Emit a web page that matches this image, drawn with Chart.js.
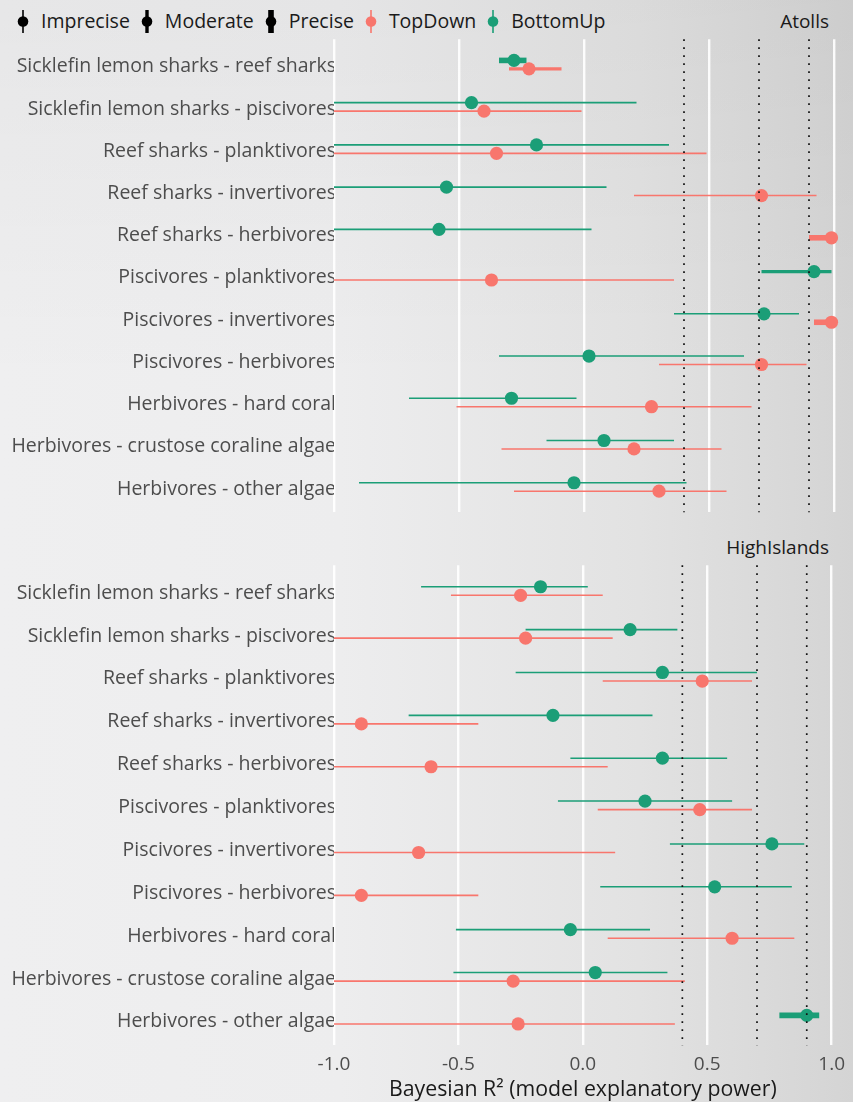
<!DOCTYPE html>
<html>
<head>
<meta charset="utf-8">
<script src="https://cdn.jsdelivr.net/npm/chart.js@4.4.1/dist/chart.umd.min.js"></script>
<style>
  html, body { margin: 0; padding: 0; }
  body {
    width: 853px; height: 1102px; position: relative; overflow: hidden;
    font-family: "Open Sans", sans-serif;
    background:
      linear-gradient(to bottom, rgba(0,0,0,0.035) 0%, rgba(0,0,0,0) 35%, rgba(0,0,0,0) 100%),
      linear-gradient(to right, #efeff0 0%, #ededee 40%, #e2e2e2 75%, #d4d4d4 100%);
  }
  #legend {
    position: absolute; left: 16px; top: 8px; height: 26px;
    display: flex; align-items: center; font-size: 19.5px; color: #1a1a1a;
  }
  .key { display: flex; align-items: center; }
  .key svg { display: block; }
  .key span { margin-left: 11px; margin-right: 10px; line-height: 26px; }
  .strip { position: absolute; right: 24px; font-size: 19px; line-height: 26px; color: #1a1a1a; }
  .wrap { position: absolute; left: 0; width: 853px; }
  canvas { display: block; }
</style>
</head>
<body>
<div id="legend"></div>
<div class="strip" style="top:8px">Atolls</div>
<div class="strip" style="top:534px">HighIslands</div>
<div class="wrap" style="top:0px;height:522px"><canvas id="atolls" width="853" height="522"></canvas></div>
<div class="wrap" style="top:522px;height:580px"><canvas id="high" width="853" height="580"></canvas></div>
<script>
// Trophic links shown on each panel (top to bottom)
const links = [
  "Sicklefin lemon sharks - reef sharks",
  "Sicklefin lemon sharks - piscivores",
  "Reef sharks - planktivores",
  "Reef sharks - invertivores",
  "Reef sharks - herbivores",
  "Piscivores - planktivores",
  "Piscivores - invertivores",
  "Piscivores - herbivores",
  "Herbivores - hard coral",
  "Herbivores - crustose coraline algae",
  "Herbivores - other algae"
];

// Bayesian R² estimates and interval bounds, Atolls
const atollsTopDownEst = [-0.22, -0.40, -0.35, 0.71, 0.99, -0.37, 0.99, 0.71, 0.27, 0.20, 0.30];
const atollsTopDownLo  = [-0.30, -1.00, -1.00, 0.20, 0.90, -1.00, 0.92, 0.30, -0.51, -0.33, -0.28];
const atollsTopDownHi  = [-0.09, -0.01, 0.49, 0.93, 1.00, 0.36, 1.00, 0.89, 0.67, 0.55, 0.57];
const atollsTopDownPrec = ["Moderate","Imprecise","Imprecise","Imprecise","Precise","Imprecise","Precise","Imprecise","Imprecise","Imprecise","Imprecise"];

const atollsBottomUpEst = [-0.28, -0.45, -0.19, -0.55, -0.58, 0.92, 0.72, 0.02, -0.29, 0.08, -0.04];
const atollsBottomUpLo  = [-0.34, -1.00, -1.00, -1.00, -1.00, 0.71, 0.36, -0.34, -0.70, -0.15, -0.90];
const atollsBottomUpHi  = [-0.23, 0.21, 0.34, 0.09, 0.03, 0.99, 0.86, 0.64, -0.03, 0.36, 0.41];
const atollsBottomUpPrec = ["Precise","Imprecise","Imprecise","Imprecise","Imprecise","Moderate","Imprecise","Imprecise","Imprecise","Imprecise","Imprecise"];

// Bayesian R² estimates and interval bounds, High islands
const highTopDownEst = [-0.25, -0.23, 0.48, -0.89, -0.61, 0.47, -0.66, -0.89, 0.60, -0.28, -0.26];
const highTopDownLo  = [-0.53, -1.00, 0.08, -1.00, -1.00, 0.06, -1.00, -1.00, 0.10, -1.00, -1.00];
const highTopDownHi  = [0.08, 0.12, 0.68, -0.42, 0.10, 0.68, 0.13, -0.42, 0.85, 0.41, 0.37];
const highTopDownPrec = ["Imprecise","Imprecise","Imprecise","Imprecise","Imprecise","Imprecise","Imprecise","Imprecise","Imprecise","Imprecise","Imprecise"];

const highBottomUpEst = [-0.17, 0.19, 0.32, -0.12, 0.32, 0.25, 0.76, 0.53, -0.05, 0.05, 0.90];
const highBottomUpLo  = [-0.65, -0.23, -0.27, -0.70, -0.05, -0.10, 0.35, 0.07, -0.51, -0.52, 0.79];
const highBottomUpHi  = [0.02, 0.38, 0.70, 0.28, 0.58, 0.60, 0.89, 0.84, 0.27, 0.34, 0.95];
const highBottomUpPrec = ["Imprecise","Imprecise","Imprecise","Imprecise","Imprecise","Imprecise","Imprecise","Imprecise","Imprecise","Imprecise","Precise"];

// Reference thresholds and x-axis ticks
const thresholds = [0.4, 0.7, 0.9];
const xTicks = [-1.0, -0.5, 0.0, 0.5, 1.0];

// Styling
const precisionWidth = { Imprecise: 1.6, Moderate: 3.4, Precise: 5.6 };
const directionColor = { TopDown: "#F8766D", BottomUp: "#1B9E77" };
const dodge = { BottomUp: -0.1, TopDown: 0.1 };
const labelFont = { family: "Open Sans", size: 19.5 };
// small downward nudge so the row labels sit optically centred between the two dodged ranges
const labelNudge = 0.05;

// Legend keys: point with a vertical range line
const legendKeys = [
  { label: "Imprecise", color: "#000", width: precisionWidth.Imprecise },
  { label: "Moderate", color: "#000", width: precisionWidth.Moderate },
  { label: "Precise", color: "#000", width: precisionWidth.Precise },
  { label: "TopDown", color: directionColor.TopDown, width: precisionWidth.Imprecise },
  { label: "BottomUp", color: directionColor.BottomUp, width: precisionWidth.Imprecise }
];
const legendEl = document.getElementById("legend");
legendKeys.forEach(k => {
  const item = document.createElement("div");
  item.className = "key";
  item.innerHTML =
    '<svg width="14" height="26" viewBox="0 0 14 26">' +
    '<line x1="7" y1="2" x2="7" y2="25" stroke="' + k.color + '" stroke-width="' + k.width + '"/>' +
    '<circle cx="7" cy="13.5" r="5.3" fill="' + k.color + '"/></svg>' +
    '<span>' + k.label + '</span>';
  legendEl.appendChild(item);
});

function rangeDatasets(est, lo, hi, prec, direction) {
  return est.map((e, i) => {
    const y = i + dodge[direction];
    const color = directionColor[direction];
    return {
      label: direction + " " + links[i],
      data: [{ x: lo[i], y: y }, { x: e, y: y }, { x: hi[i], y: y }],
      borderColor: color,
      backgroundColor: color,
      borderWidth: precisionWidth[prec[i]],
      borderCapStyle: "butt",
      pointRadius: [0, 6.6, 0],
      pointHoverRadius: [0, 6.6, 0],
      pointBorderWidth: 0,
      pointBackgroundColor: color,
      order: 2
    };
  });
}

function thresholdDatasets() {
  return thresholds.map(t => ({
    label: "threshold " + t,
    data: [{ x: t, y: -0.6 }, { x: t, y: links.length - 0.4 }],
    borderColor: "#111",
    borderWidth: 1.7,
    borderDash: [1.7, 6.3],
    borderCapStyle: "butt",
    pointRadius: 0,
    order: 0
  }));
}

function makePanel(canvasId, series, showAxis, pad) {
  const datasets = [];
  series.forEach(s => datasets.push(...rangeDatasets(s.est, s.lo, s.hi, s.prec, s.dir)));
  datasets.push(...thresholdDatasets());
  return new Chart(document.getElementById(canvasId), {
    type: "line",
    data: { datasets },
    options: {
      responsive: false,
      animation: false,
      devicePixelRatio: 1,
      clip: false,
      events: [],
      layout: { autoPadding: false, padding: pad },
      plugins: { legend: { display: false }, tooltip: { enabled: false } },
      scales: {
        x: {
          type: "linear",
          min: -1, max: 1,
          afterBuildTicks: s => { s.ticks = xTicks.map(v => ({ value: v })); },
          afterFit: s => { s.height = showAxis ? 56.6 : 0; },
          grid: { display: true, color: "rgba(255,255,255,0.9)", lineWidth: 2.4, drawTicks: false },
          border: { display: false },
          ticks: {
            display: showAxis,
            color: "#4d4d4d",
            font: { family: "Open Sans", size: 19 },
            padding: 8,
            callback: v => v.toFixed(1)
          },
          title: {
            display: showAxis,
            text: "Bayesian R\u00B2 (model explanatory power)",
            color: "#1a1a1a",
            font: { family: "Open Sans", size: 21.3 },
            padding: { top: 0, bottom: -1 }
          }
        },
        y: {
          type: "linear",
          reverse: true,
          min: -0.6, max: links.length - 0.4,
          afterBuildTicks: s => { s.ticks = links.map((_, i) => ({ value: i + labelNudge })); },
          afterFit: s => { s.width = 334; },
          grid: { display: false, drawTicks: false },
          border: { display: false },
          ticks: {
            autoSkip: false,
            color: "#4d4d4d",
            font: labelFont,
            padding: -2,
            callback: v => links[Math.round(v)]
          }
        }
      }
    }
  });
}

makePanel("atolls", [
  { dir: "TopDown", est: atollsTopDownEst, lo: atollsTopDownLo, hi: atollsTopDownHi, prec: atollsTopDownPrec },
  { dir: "BottomUp", est: atollsBottomUpEst, lo: atollsBottomUpLo, hi: atollsBottomUpHi, prec: atollsBottomUpPrec }
], false, { left: 0, right: 19, top: 39.3, bottom: 2.6 });

makePanel("high", [
  { dir: "TopDown", est: highTopDownEst, lo: highTopDownLo, hi: highTopDownHi, prec: highTopDownPrec },
  { dir: "BottomUp", est: highBottomUpEst, lo: highBottomUpLo, hi: highBottomUpHi, prec: highBottomUpPrec }
], true, { left: 0, right: 19, top: 43.3, bottom: 0 });
</script>
</body>
</html>
